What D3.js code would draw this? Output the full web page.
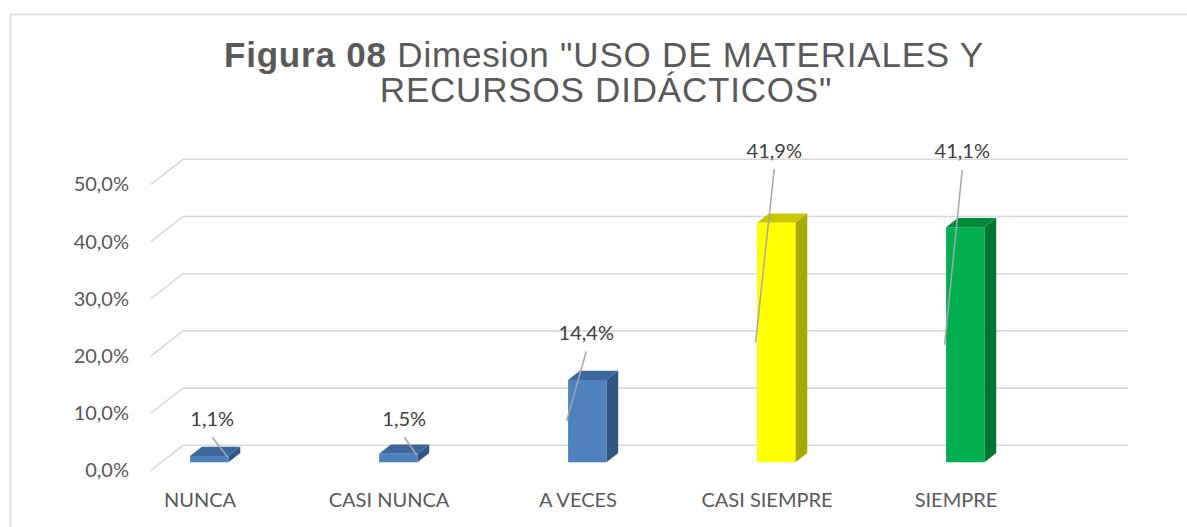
<!DOCTYPE html>
<html>
<head>
<meta charset="utf-8">
<script src="https://cdn.jsdelivr.net/npm/d3@7"></script>
<style>
  html, body { margin: 0; padding: 0; background: #ffffff; }
  svg { display: block; }
</style>
</head>
<body>
<svg id="chart" width="1187" height="527"></svg>
<script>
// ---- data ----
const categories = ["NUNCA", "CASI NUNCA", "A VECES", "CASI SIEMPRE", "SIEMPRE"];
const values = [0.011, 0.015, 0.144, 0.419, 0.411];
const valueLabels = ["1,1%", "1,5%", "14,4%", "41,9%", "41,1%"];
const yTicks = [0, 0.1, 0.2, 0.3, 0.4, 0.5];
const yTickLabels = ["0,0%", "10,0%", "20,0%", "30,0%", "40,0%", "50,0%"];
const titleBold = "Figura 08";
const titleLine1 = " Dimesion \"USO DE MATERIALES Y";
const titleLine2 = "RECURSOS DIDÁCTICOS\"";

// ---- styles / layout ----
const palette = [
  { front: "#4f81bd", top: "#3b679d", side: "#2f5583" },
  { front: "#4f81bd", top: "#3b679d", side: "#2f5583" },
  { front: "#4f81bd", top: "#3b679d", side: "#2f5583" },
  { front: "#ffff00", top: "#c8c800", side: "#a8a800" },
  { front: "#00b050", top: "#008a3e", side: "#007632" }
];
// label placement relative to bar (dx from bar center, dy from bar top), and leader target
const labelDx = [3, 6, -1, -2, -3];
const labelDy = [-30, -28, -40, -65, -69];
const leaderTarget = ["corner", "corner", "mid", "mid", "mid"];

const svg = d3.select("#chart");
const textColor = "#595959";
const gridColor = "#d9d9d9";
const labelFont = "Lato, 'Open Sans', sans-serif";
const labelSize = 20;

// 3D projection: depth d in [0,1] shifts x by +depthDX*d, y by +depthDY*d
const depthDX = 32, depthDY = -25;
const barD0 = 0.32, barD1 = 0.69;

// front-plane scales
const y = d3.scaleLinear().domain([0, 0.5]).range([470.3, 184.3]);
const x = d3.scaleBand().domain(categories).range([104.5, 1049.5]);
const barW = 38.3;
const floorX0 = 151, floorX1 = 1096;

// outer border
svg.append("rect")
  .attr("x", 10.5).attr("y", 14.5)
  .attr("width", 1190).attr("height", 560)
  .attr("fill", "none").attr("stroke", gridColor).attr("stroke-width", 1.5);

// title
const title = svg.append("text")
  .attr("text-anchor", "middle")
  .attr("font-family", "'Liberation Sans', Arial, sans-serif")
  .attr("font-size", 35)
  .attr("letter-spacing", 0.8)
  .attr("fill", textColor);
const t1 = title.append("tspan").attr("x", 604).attr("y", 67);
t1.append("tspan").attr("font-weight", "bold").text(titleBold);
t1.append("tspan").text(titleLine1);
title.append("tspan").attr("x", 606).attr("y", 101.5).text(titleLine2);

// gridlines (front diagonal + back wall)
const grid = svg.append("g");
yTicks.forEach(t => {
  const yf = y(t);
  grid.append("polyline")
    .attr("points", [
      [floorX0, yf],
      [floorX0 + depthDX, yf + depthDY],
      [floorX1 + depthDX, yf + depthDY]
    ].map(p => p.join(",")).join(" "))
    .attr("fill", "none")
    .attr("stroke", gridColor)
    .attr("stroke-width", 1.6);
});

// y tick labels
svg.append("g").selectAll("text")
  .data(yTicks)
  .join("text")
  .attr("x", 129)
  .attr("y", d => y(d))
  .attr("dy", "0.35em")
  .attr("text-anchor", "end")
  .attr("font-family", labelFont)
  .attr("font-size", labelSize)
  .attr("fill", textColor)
  .text((d, i) => yTickLabels[i]);

// bars
const bars = svg.append("g");
categories.forEach((c, i) => {
  const v = values[i];
  const cx = x(c) + x.bandwidth() / 2;
  const xl = cx - barW / 2 + depthDX * barD0;
  const xr = xl + barW;
  const yb = y(0) + depthDY * barD0;
  const yt = y(v) + depthDY * barD0;
  const ddx = depthDX * (barD1 - barD0);
  const ddy = depthDY * (barD1 - barD0);
  const col = palette[i];
  bars.append("polygon")
    .attr("points", [[xr, yb], [xr + ddx, yb + ddy], [xr + ddx, yt + ddy], [xr, yt]].map(p => p.join(",")).join(" "))
    .attr("fill", col.side);
  bars.append("polygon")
    .attr("points", [[xl, yt], [xr, yt], [xr + ddx, yt + ddy], [xl + ddx, yt + ddy]].map(p => p.join(",")).join(" "))
    .attr("fill", col.top);
  bars.append("rect")
    .attr("x", xl).attr("y", yt)
    .attr("width", barW).attr("height", yb - yt)
    .attr("fill", col.front);
});

// data labels and leader lines
const labels = svg.append("g");
categories.forEach((c, i) => {
  const v = values[i];
  const cx = x(c) + x.bandwidth() / 2 + depthDX * barD0;
  const xl = cx - barW / 2, xr = cx + barW / 2;
  const yb = y(0) + depthDY * barD0;
  const yt = y(v) + depthDY * barD0;
  const lx = cx + labelDx[i];
  const ly = yt + labelDy[i];
  let ex, ey;
  if (leaderTarget[i] === "corner") { ex = xr - 0.6; ey = yt + 1.3; }
  else { ex = xl - 1.5; ey = (yt + yb) / 2; }
  labels.append("line")
    .attr("x1", lx).attr("y1", ly + 11.5)
    .attr("x2", ex).attr("y2", ey)
    .attr("stroke", "#a6a6a6").attr("stroke-width", 1.5);
  labels.append("text")
    .attr("x", lx).attr("y", ly)
    .attr("text-anchor", "middle")
    .attr("font-family", labelFont)
    .attr("font-size", labelSize)
    .attr("fill", "#404040")
    .text(valueLabels[i]);
});

// category labels
svg.append("g").selectAll("text")
  .data(categories)
  .join("text")
  .attr("x", d => x(d) + x.bandwidth() / 2 + 1)
  .attr("y", 506.7)
  .attr("text-anchor", "middle")
  .attr("font-family", labelFont)
  .attr("font-size", labelSize)
  .attr("fill", textColor)
  .text(d => d);
</script>
</body>
</html>
